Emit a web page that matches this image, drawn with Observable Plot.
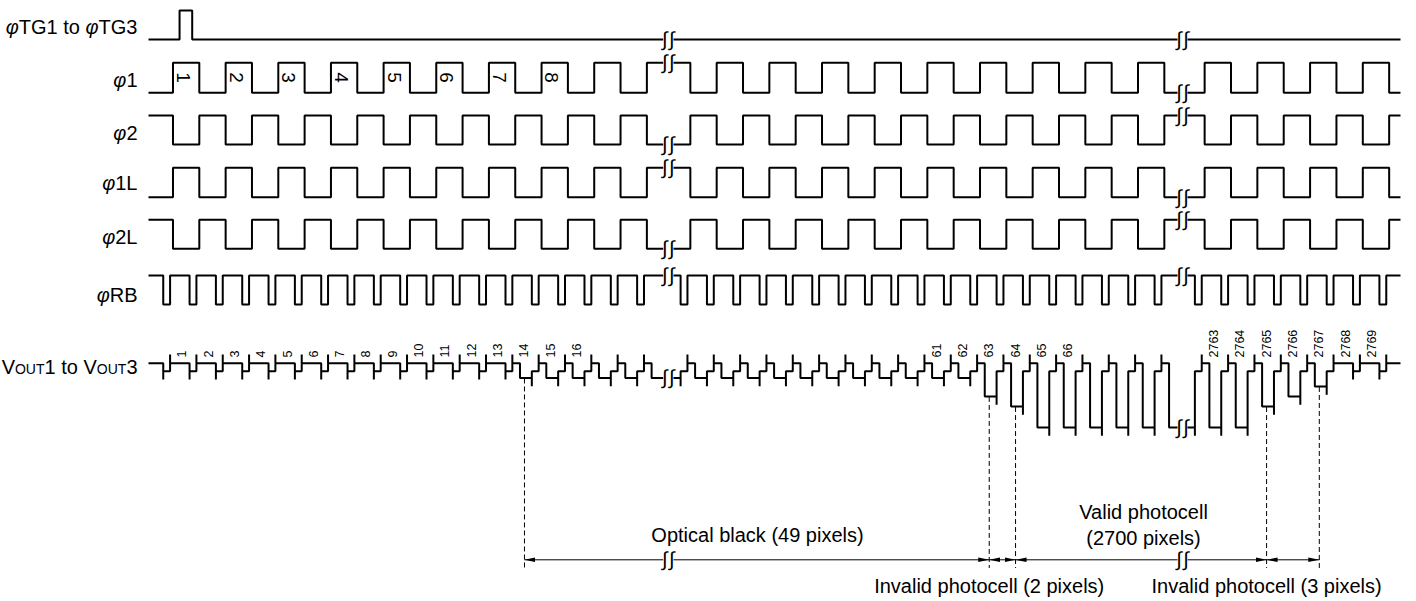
<!DOCTYPE html>
<html><head><meta charset="utf-8">
<script src="https://cdn.jsdelivr.net/npm/d3@7"></script>
<script src="https://cdn.jsdelivr.net/npm/@observablehq/plot@0.6"></script>
<style>html,body{margin:0;padding:0;background:#fff;}</style>
</head><body><div id="chart"></div>
<script>
// ================= DATA =================
// Time is measured in output-pixel periods (pixel n is reset at t = n).
const rowLabels = ["φTG1 to φTG3", "φ1", "φ2", "φ1L", "φ2L", "φRB", "VOUT1 to VOUT3"];
const shownWindows = [[0.44, 19.99], [51.73, 70.87], [2762.72, 2770.8]]; // time spans drawn between the breaks
const tgPulse = [1.62, 2.10];          // transfer gate high interval
const clockEdge = 0.37;                // phase of the φ1/φ2 edges inside a pixel period
const resetLow = 0.26;                 // φRB low width (pixel periods)
const signalStart = 0.55;              // start of the signal level inside a pixel period
const phi1Numbers = ["1", "2", "3", "4", "5", "6", "7", "8"];
const voutNumbers = [1, 2, 3, 4, 5, 6, 7, 8, 9, 10, 11, 12, 13, 14, 15, 16,
                     61, 62, 63, 64, 65, 66,
                     2763, 2764, 2765, 2766, 2767, 2768, 2769];
const zoneFirst = [1, 14, 63, 64, 65, 2765, 2766, 2767, 2768];      // first pixel of each output zone
const zoneDepth = [0, 1.11, 2.5, 3.26, 4.83, 3.26, 2.5, 1.75, 0];   // signal depth below reference
const resetDepth = 0.6, spikeUp = 0.65, spikeDown = 0.62;
const markedPixels = [14, 63, 64, 2765, 2767];
const spanFrom = [14, 63, 64, 2765];
const spanTo = [63, 64, 2765, 2767];
const spanText = ["Optical black (49 pixels)", "Invalid photocell (2 pixels)", "Valid photocell\n(2700 pixels)", "Invalid photocell (3 pixels)"];

// ================= LAYOUT =================
const W = 1416, H = 601;
const xRange = [148, 662.7, 673, 1177, 1187, 1400];
const rowHigh = [10, 62.3, 115, 167.3, 219.3, 275];
const rowLow = [39, 92.3, 144, 196.7, 248.3, 304];
const labelY = [26.7, 80, 133, 183.3, 236.7, 295, 366.7];
const voutRef = 362.7, voutUnit = 13.3;
const labelOffset = 0.72;
const arrowY = 559.3, dashBottom = 568;
const font = "Liberation Sans, Arial, Helvetica, sans-serif";

// ================= SERIES =================
function phi1(t) { const k = Math.floor(t - clockEdge); return ((k % 2) + 2) % 2; }
function clockEdges(a, b) { const e = []; for (let n = Math.floor(a) - 1; n <= Math.ceil(b); n++) e.push(n + clockEdge); return e; }
const levelFns = [
  t => (t >= tgPulse[0] && t < tgPulse[1]) ? 1 : 0,
  t => phi1(t), t => 1 - phi1(t), t => phi1(t), t => 1 - phi1(t),
  t => (t - Math.floor(t)) < resetLow ? 0 : 1
];
const edgeFns = [
  () => tgPulse, clockEdges, clockEdges, clockEdges, clockEdges,
  (a, b) => { const e = []; for (let n = Math.floor(a); n <= Math.ceil(b); n++) e.push(n, n + resetLow); return e; }
];
const clockPts = [];
const breakMarks = [];
for (let r = 0; r < 6; r++) {
  const yOf = v => rowLow[r] - v * (rowLow[r] - rowHigh[r]);
  shownWindows.forEach(([a, b], w) => {
    const key = r + "-" + w;
    let cur = levelFns[r](a);
    clockPts.push({key, t: a, y: yOf(cur)});
    for (const e of edgeFns[r](a, b).filter(e => e > a && e < b).sort((p, q) => p - q)) {
      const nv = levelFns[r](e + 1e-6);
      if (nv !== cur) { clockPts.push({key, t: e, y: yOf(cur)}, {key, t: e, y: yOf(nv)}); cur = nv; }
    }
    clockPts.push({key, t: b, y: yOf(cur)});
    if (w < shownWindows.length - 1) breakMarks.push({t: (b + shownWindows[w + 1][0]) / 2, y: yOf(cur)});
  });
}
function depth(n) { let d = 0; for (let i = 0; i < zoneFirst.length; i++) if (n >= zoneFirst[i]) d = zoneDepth[i]; return d; }
const voutPts = [];
shownWindows.forEach(([a, b], w) => {
  const key = "v" + w;
  const yOf = v => voutRef + v * voutUnit;
  const n0 = Math.floor(a), f = a - n0;
  let cur = f < resetLow ? resetDepth : f < signalStart ? 0 : depth(n0);
  const push = (t, v) => voutPts.push({key, t, y: yOf(v)});
  push(a, cur);
  for (let n = n0; n <= Math.ceil(b); n++) {
    if (n > a && n < b) { push(n, cur); push(n, Math.max(cur, resetDepth) + spikeDown); push(n, resetDepth); cur = resetDepth; }
    const t1 = n + resetLow;
    if (t1 > a && t1 < b) { push(t1, cur); push(t1, -spikeUp); push(t1, 0); cur = 0; }
    const t2 = n + signalStart;
    if (t2 > a && t2 < b) { push(t2, cur); push(t2, depth(n)); cur = depth(n); }
  }
  push(b, cur);
  if (w < shownWindows.length - 1) {
    const tm = (b + shownWindows[w + 1][0]) / 2;
    breakMarks.push({t: tm, y: yOf(cur)});
    breakMarks.push({t: tm, y: arrowY});
  }
});

// arrows split at the breaks
const arrowPieces = [];
spanFrom.forEach((s, i) => {
  const from = s + labelOffset, to = spanTo[i] + labelOffset;
  for (const [a, b] of shownWindows) {
    const p = Math.max(from, a), q = Math.min(to, b);
    if (p < q) arrowPieces.push({p, q, start: p === from, end: q === to});
  }
});
const linkOpts = {x1: "p", x2: "q", y1: arrowY, y2: arrowY, stroke: "black", strokeWidth: 1};

const spanTextX = [54.92, 63.72, 69.58, 2765.72];
const spanTextY = [533.5, 584, 523, 584];

const chart = Plot.plot({
  width: W, height: H, margin: 0,
  style: {fontFamily: font, background: "white", color: "black"},
  x: {type: "linear", domain: shownWindows.flat(), range: xRange, axis: null},
  y: {type: "linear", domain: [0, H], range: [0, H], axis: null},
  marks: [
    Plot.line(clockPts, {x: "t", y: "y", z: "key", stroke: "black", strokeWidth: 2, strokeLinejoin: "miter", strokeLinecap: "butt"}),
    Plot.line(voutPts, {x: "t", y: "y", z: "key", stroke: "black", strokeWidth: 2, strokeLinejoin: "miter", strokeLinecap: "butt"}),
    Plot.ruleX(markedPixels, {x: n => n + labelOffset, y1: n => voutRef + depth(n) * voutUnit + 1, y2: dashBottom, stroke: "black", strokeWidth: 1, strokeDasharray: "5,3"}),
    Plot.link(arrowPieces.filter(d => d.start && d.end), {...linkOpts, markerStart: "arrow", markerEnd: "arrow"}),
    Plot.link(arrowPieces.filter(d => d.start && !d.end), {...linkOpts, markerStart: "arrow"}),
    Plot.link(arrowPieces.filter(d => !d.start && d.end), {...linkOpts, markerEnd: "arrow"}),
    Plot.text(breakMarks, {x: "t", y: "y", text: () => "∫", dx: -3.5, fontSize: 20, fill: "black"}),
    Plot.text(breakMarks, {x: "t", y: "y", text: () => "∫", dx: 3.5, fontSize: 20, fill: "black"}),
    Plot.text(rowLabels, {frameAnchor: "left", dx: 137, y: (d, i) => labelY[i], text: d => d, textAnchor: "end", fontSize: 20, fill: "black"}),
    Plot.text(phi1Numbers, {x: (d, i) => 2 * i + 1 + clockEdge + 0.38, y: 77, text: d => d, rotate: 90, fontSize: 19, fill: "black"}),
    Plot.text(voutNumbers, {x: n => n + labelOffset, y: 357, text: n => String(n), rotate: -90, textAnchor: "start", fontSize: 12.5, fill: "black"}),
    Plot.text(spanText, {x: (d, i) => spanTextX[i], y: (d, i) => spanTextY[i], text: d => d, fontSize: 20, lineHeight: 1.3, fill: "black"})
  ]
});

const NS = "http://www.w3.org/2000/svg";
// filled, narrow arrowheads
chart.querySelectorAll("marker").forEach(m => {
  m.setAttribute("viewBox", "-11 -4 12 8");
  m.setAttribute("markerWidth", "12");
  m.setAttribute("markerHeight", "8");
  m.setAttribute("markerUnits", "userSpaceOnUse");
  m.setAttribute("orient", "auto-start-reverse");
  m.setAttribute("fill", "black");
  m.setAttribute("stroke", "none");
  while (m.firstChild) m.removeChild(m.firstChild);
  const p = document.createElementNS(NS, "path");
  p.setAttribute("d", "M-11,-2.3L0,0L-11,2.3Z");
  m.appendChild(p);
});
// italic φ and small-caps "OUT" in the row labels
chart.querySelectorAll("text").forEach(t => {
  const s = t.textContent;
  if (!rowLabels.includes(s)) return;
  const parts = s === "VOUT1 to VOUT3"
    ? [["V", ""], ["OUT", "s"], ["1 to V", ""], ["OUT", "s"], ["3", ""]]
    : s.split(/(φ)/).filter(x => x).map(x => [x, x === "φ" ? "i" : ""]);
  while (t.firstChild) t.removeChild(t.firstChild);
  parts.forEach(([txt, k]) => {
    const ts = document.createElementNS(NS, "tspan");
    ts.textContent = txt;
    if (k === "s") ts.setAttribute("font-size", "14");
    if (k === "i") ts.setAttribute("font-style", "italic");
    t.appendChild(ts);
  });
});
document.getElementById("chart").appendChild(chart);
</script></body></html>
